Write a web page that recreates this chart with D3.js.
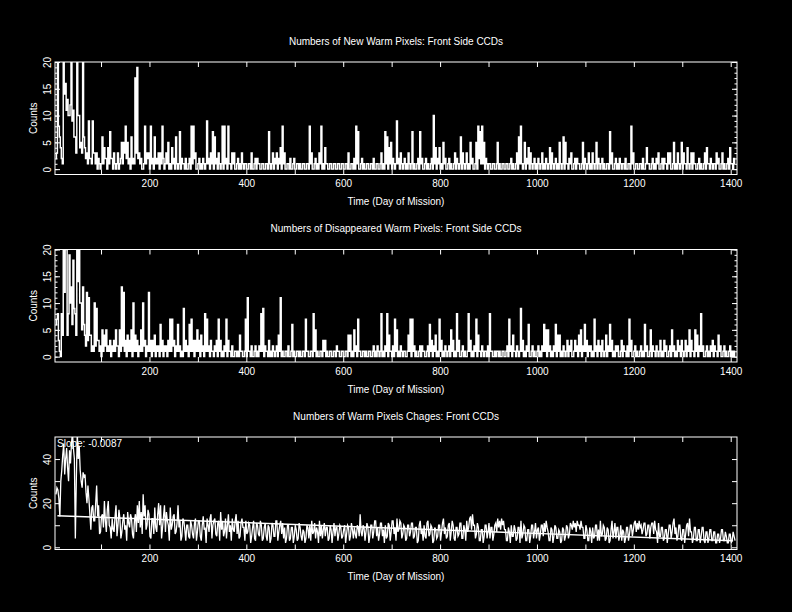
<!DOCTYPE html>
<html><head><meta charset="utf-8">
<script src="https://cdn.jsdelivr.net/npm/d3@7"></script>
<style>
html,body{margin:0;padding:0;background:#000;}
svg{display:block;font-family:"Liberation Sans",Arial,sans-serif;}
</style></head><body>
<svg id="c" width="792" height="612"></svg>
<script>
// ---------------- data ----------------
const firstDay = 7, dayStep = 2;           // sample i is at day firstDay + dayStep*i
const xTickValues = [100,200,300,400,500,600,700,800,900,1000,1100,1200,1300,1400];
const xLabelValues = [200,400,600,800,1000,1200,1400];
const titles = [
  "Numbers of New Warm Pixels: Front Side CCDs",
  "Numbers of Disappeared Warm Pixels: Front Side CCDs",
  "Numbers of Warm Pixels Chages: Front CCDs"
];
const xTitle = "Time (Day of Mission)";
const yTitle = "Counts";
const slopeText = "Slope: -0.0087";
const yLabels12 = [0,5,10,15,20];
const yLabels3 = [0,20,40];

const newWarm = [
2,3,25,8,6,4,2,1,25,14,16,11,13,10,10,12,25,9,11,6,
6,3,25,10,10,4,5,3,25,6,4,2,3,1,9,2,2,1,9,3,
3,1,3,0,2,1,0,1,6,1,4,2,2,0,4,1,7,2,2,0,
3,1,0,1,3,0,1,2,5,1,5,3,8,2,5,1,2,0,6,1,
2,1,17,3,19,2,3,1,2,0,0,1,8,1,3,2,3,0,8,1,
2,0,6,1,2,1,3,0,3,1,8,2,0,1,3,1,5,0,1,0,
4,1,2,0,6,1,0,1,7,0,2,1,1,0,2,0,0,1,2,0,
8,1,8,2,3,0,0,1,2,0,1,0,2,1,0,1,9,1,2,0,
3,1,7,0,6,1,2,0,3,1,0,1,8,0,8,1,2,0,8,1,
1,0,3,1,3,0,0,1,2,0,1,0,3,1,0,1,1,0,0,1,
1,0,3,0,0,1,2,0,2,1,1,0,0,1,1,0,0,1,1,0,
7,1,0,1,3,0,2,1,3,0,2,1,4,0,8,1,3,0,0,1,
1,0,2,0,0,1,2,0,0,1,1,0,1,0,0,1,1,0,0,1,
1,0,8,1,3,0,0,1,2,0,1,0,3,1,8,0,1,0,4,1,
1,0,0,1,1,0,0,1,1,0,0,1,1,0,0,1,1,0,0,1,
1,0,3,0,0,1,1,0,2,0,8,1,7,0,0,1,2,0,1,0,
0,1,1,0,0,1,1,0,2,0,0,1,1,0,0,1,3,0,1,0,
7,1,6,0,4,1,5,0,2,1,0,1,9,1,2,0,3,1,0,1,
2,0,1,0,3,1,0,1,7,0,1,0,0,1,2,0,7,1,2,0,
0,1,2,0,1,0,0,1,2,0,10,1,4,0,2,1,4,0,1,0,
5,1,2,0,0,1,2,0,1,0,0,1,3,0,2,1,0,1,6,0,
3,1,0,1,3,0,1,0,5,1,2,0,0,1,5,0,8,2,7,1,
8,1,5,0,2,1,0,1,1,0,0,1,1,0,0,1,5,0,1,0,
0,1,1,0,0,1,1,0,0,1,2,0,1,0,0,1,3,0,6,1,
8,1,0,1,5,0,2,1,4,0,3,1,0,1,2,0,1,0,2,1,
0,1,3,0,1,0,2,1,0,1,4,0,3,1,0,1,2,0,1,0,
5,1,0,1,6,0,5,1,1,0,2,1,3,0,0,1,2,0,2,1,
1,0,0,1,5,0,2,1,0,1,3,0,1,0,3,1,0,1,5,0,
2,1,0,1,2,0,1,0,0,1,1,0,7,1,3,0,0,1,2,0,
1,0,2,1,0,1,1,0,2,0,0,1,1,0,8,1,3,0,0,1,
1,0,0,1,1,0,2,0,0,1,4,1,1,0,0,1,2,0,1,0,
2,1,3,0,0,1,2,0,2,1,1,0,3,1,3,0,0,1,5,0,
1,0,3,1,0,1,5,0,3,1,1,0,4,1,0,1,3,0,3,1,
1,0,0,1,2,0,1,0,0,1,3,0,4,1,1,0,2,1,0,1,
1,0,3,1,2,0,0,1,3,0,1,0,0,1,2,0,4,1,1,0,
2,1
];

const goneWarm = [
6,7,8,3,1,0,8,4,25,12,25,20,4,8,19,10,13,6,18,9,
8,4,25,14,25,10,10,5,13,6,4,2,12,3,11,4,4,1,2,1,
10,2,9,3,3,1,2,0,5,1,4,2,5,1,2,1,3,0,2,1,
3,1,5,2,2,0,5,1,13,2,12,1,3,0,4,1,3,1,5,0,
10,1,4,1,3,0,2,1,5,1,10,2,3,0,2,1,12,1,3,0,
3,1,4,0,2,1,2,0,6,1,3,0,2,1,2,0,3,1,7,1,
7,2,3,0,2,1,6,1,2,0,1,0,9,1,3,1,2,0,6,1,
7,1,3,0,3,1,5,1,3,0,4,1,2,0,8,1,7,1,2,0,
3,1,1,0,2,1,3,0,7,1,3,0,1,0,2,1,7,0,3,1,
1,0,2,0,0,1,1,0,1,0,4,1,1,0,0,1,7,0,11,1,
1,0,2,0,0,1,2,0,1,0,2,1,8,1,9,0,2,1,1,0,
3,0,1,0,2,1,0,1,2,0,4,1,11,0,1,0,0,1,1,0,
2,0,0,1,6,0,1,0,0,1,1,0,1,0,0,1,1,0,7,1,
1,0,0,1,1,0,8,1,5,0,1,0,0,1,1,0,3,1,3,0,
1,0,0,1,1,0,0,1,1,0,2,1,1,0,0,1,1,0,0,1,
1,0,4,1,4,0,1,0,5,1,2,0,7,1,1,0,0,1,1,0,
1,0,0,1,1,0,0,1,2,0,1,0,2,1,0,1,8,0,1,0,
2,1,8,0,4,1,1,0,2,0,7,1,5,0,1,0,2,1,0,1,
1,0,0,1,4,1,7,0,7,1,2,0,1,0,0,1,2,0,2,1,
1,0,0,1,2,0,6,1,3,0,2,1,4,0,1,0,7,1,3,0,
1,0,2,1,0,1,2,0,5,1,3,0,1,0,8,1,3,0,0,1,
2,0,1,0,0,1,8,1,3,0,1,0,2,1,7,0,4,1,1,0,
2,1,0,1,1,0,2,0,8,1,1,0,0,1,0,1,1,0,1,0,
0,1,1,0,0,1,2,0,7,1,2,0,4,1,1,0,2,1,0,1,
9,1,3,0,1,0,2,1,6,0,0,1,2,0,1,0,0,1,2,0,
1,0,2,1,6,1,5,0,5,1,2,0,1,0,2,1,6,0,4,1,
4,0,1,0,2,1,0,1,3,0,2,1,3,0,0,1,3,1,2,0,
4,1,5,0,2,1,6,1,3,0,2,1,2,0,1,0,7,1,2,0,
3,1,2,0,3,1,0,1,4,0,2,1,6,1,3,0,1,0,2,1,
2,0,0,1,3,0,2,1,1,0,2,0,7,1,3,0,0,1,2,0,
1,0,0,1,2,0,1,0,6,1,2,0,0,1,5,0,2,1,1,0,
2,1,0,1,3,0,1,0,3,1,2,0,0,1,2,0,5,1,2,0,
1,0,3,1,2,0,3,1,0,1,3,0,2,1,5,0,3,1,1,0,
5,1,4,0,2,1,8,1,2,0,0,1,2,0,1,0,2,1,3,0,
2,1,1,0,4,1,2,0,0,1,2,0,1,0,0,1,2,0,1,0,
1,0
];

const warmChange = [
24,27,26,22,14,30,35,42,47,33,40,45,36,30,44,38,47,52,45,40,
4,30,52,40,46,35,30,27,34,32,33,25,20,28,22,15,8,18,19,12,
12,20,28,14,19,6,7,14,15,9,21,12,7,17,21,10,9,4,13,8,
7,14,19,5,10,17,13,4,7,12,15,8,10,3,16,11,9,15,13,6,
4,12,15,7,19,11,21,9,16,6,24,14,19,8,10,17,15,5,4,13,
13,6,18,9,7,15,20,10,19,4,9,14,19,7,16,12,10,3,18,8,
10,14,15,6,7,11,19,9,12,3,5,13,12,8,3,10,10,5,4,12,
10,6,4,11,13,3,7,12,12,5,3,10,14,8,9,2,13,10,7,13,
15,4,10,12,13,6,5,11,12,3,16,8,12,5,7,13,4,10,15,7,
10,3,13,8,7,12,15,6,12,4,5,11,13,9,9,3,12,6,7,11,
10,2,5,9,12,4,3,11,10,6,5,12,10,3,4,9,11,5,3,10,
9,2,4,11,10,5,5,12,12,3,7,10,12,6,11,4,9,2,4,10,
10,3,4,9,9,2,5,10,8,3,4,11,9,5,3,8,7,2,4,10,
9,4,10,3,12,6,7,11,4,9,7,2,12,5,10,4,8,11,5,9,
9,3,4,10,8,2,7,11,5,9,9,3,6,10,9,4,5,8,10,2,
6,10,9,3,5,11,8,4,9,6,4,10,9,5,15,7,5,10,9,3,
7,11,9,2,5,10,10,4,7,12,12,5,9,3,6,11,11,5,8,2,
10,4,5,11,10,3,7,12,12,6,9,3,13,7,8,12,11,4,6,10,
9,3,4,10,10,5,7,11,11,4,5,9,9,2,3,10,12,6,8,3,
10,5,4,11,12,5,6,10,9,2,3,9,8,4,5,10,10,3,7,11,
13,6,9,4,5,10,11,3,7,12,10,4,3,9,9,5,6,11,11,4,
4,10,8,3,12,7,9,13,14,8,15,10,10,4,6,11,9,3,3,8,
8,2,5,10,10,4,7,11,4,9,9,3,6,10,11,7,13,9,12,8,
13,10,12,8,8,3,3,9,7,2,10,5,5,10,8,3,4,9,9,2,
12,4,6,10,9,3,3,8,8,2,5,10,10,4,7,11,4,8,9,3,
6,10,10,5,11,7,12,9,7,3,3,9,8,2,5,10,9,4,4,8,
7,2,3,9,8,3,5,10,9,4,6,11,10,8,12,9,11,7,12,10,
10,8,12,9,9,4,4,10,8,3,3,9,7,2,9,4,5,10,10,3,
8,3,12,5,6,10,9,3,4,9,8,2,3,8,12,4,7,11,4,9,
9,3,5,10,3,8,7,2,4,9,9,3,6,10,10,5,8,11,12,7,
11,8,12,9,10,6,8,11,11,5,6,10,10,4,9,11,11,6,12,8,
7,2,11,5,5,9,9,3,4,8,8,2,6,10,10,4,7,11,13,6,
9,3,5,10,10,4,3,8,8,2,6,10,11,5,13,7,7,2,4,9,
9,3,3,8,8,2,5,9,9,3,2,7,7,2,4,8,8,3,3,7,
7,2,2,6,6,2,4,8,8,3,3,7,5,2,2,6,6,2,3,7,
5,3
];
const fitLine = [[10,14.3],[1405,3.0]];

// ---------------- drawing ----------------
const svg = d3.select("#c");
svg.append("rect").attr("width",792).attr("height",612).attr("fill","#000");

const L = 55, R = 737, H = 112.5;
const x = d3.scaleLinear().domain([5,1413]).range([L,R]);

const panels = [
  {top:62,   data:newWarm,  dom:[-1,20], curve:d3.curveStep,   sw:1.45, major:yLabels12, minor:d3.range(0,21), labels:yLabels12},
  {top:249.5,data:goneWarm, dom:[-1,20], curve:d3.curveStep,   sw:1.45, major:yLabels12, minor:d3.range(0,21), labels:yLabels12},
  {top:437,  data:warmChange,dom:[-1,50],curve:d3.curveLinear, sw:1.3,  major:[0,10,20,30,40], minor:[], labels:yLabels3}
];

panels.forEach((p,pi)=>{
  const bottom = p.top + H;
  const y = d3.scaleLinear().domain(p.dom).range([bottom,p.top]);
  const g = svg.append("g");
  const clipId = "clip"+pi;
  svg.append("defs").append("clipPath").attr("id",clipId)
    .append("rect").attr("x",L).attr("y",p.top).attr("width",R-L).attr("height",H);

  const line = d3.line()
    .x((d,i)=>x(firstDay+dayStep*i))
    .y(d=>y(d))
    .curve(p.curve);
  g.append("path").datum(p.data).attr("clip-path",`url(#${clipId})`)
    .attr("d",line).attr("fill","none").attr("stroke","#fff").attr("stroke-width",p.sw);

  if(pi===2){
    g.append("path").datum(fitLine).attr("clip-path",`url(#${clipId})`)
      .attr("d",d3.line().x(d=>x(d[0])).y(d=>y(d[1])))
      .attr("fill","none").attr("stroke","#fff").attr("stroke-width",1.4);
    g.append("text").attr("x",57).attr("y",p.top+9.5).attr("fill","#fff")
      .attr("font-size",10).text(slopeText);
  }

  g.append("rect").attr("x",L).attr("y",p.top).attr("width",R-L).attr("height",H)
    .attr("fill","none").attr("stroke","#fff").attr("stroke-width",1);

  const style = sel=>{sel.select(".domain").remove();
    sel.selectAll("line").attr("stroke","#fff").attr("stroke-width",1);};

  const xb = g.append("g").attr("transform",`translate(0,${bottom})`)
    .call(d3.axisBottom(x).tickValues(xTickValues).tickSizeInner(-5).tickSizeOuter(0)
      .tickPadding(7).tickFormat(d=>xLabelValues.includes(d)?d:""));
  style(xb);
  xb.selectAll("text").attr("fill","#fff").attr("font-size",10)
    .attr("dy",null).attr("y",12.5);
  const xt = g.append("g").attr("transform",`translate(0,${p.top})`)
    .call(d3.axisTop(x).tickValues(xTickValues).tickSizeInner(-5).tickSizeOuter(0).tickFormat(""));
  style(xt);

  const yl = g.append("g").attr("transform",`translate(${L},0)`)
    .call(d3.axisLeft(y).tickValues(p.major).tickSizeInner(-5).tickSizeOuter(0)
      .tickFormat(d=>p.labels.includes(d)?d:""));
  style(yl);
  yl.selectAll("text").attr("fill","#fff").attr("font-size",10)
    .attr("x",0).attr("dy",null).attr("text-anchor","middle")
    .attr("transform","translate(-4,0) rotate(-90)");
  const yr = g.append("g").attr("transform",`translate(${R},0)`)
    .call(d3.axisRight(y).tickValues(p.major).tickSizeInner(-5).tickSizeOuter(0).tickFormat(""));
  style(yr);
  if(p.minor.length){
    const ml = g.append("g").attr("transform",`translate(${L},0)`)
      .call(d3.axisLeft(y).tickValues(p.minor).tickSizeInner(-2.5).tickSizeOuter(0).tickFormat(""));
    style(ml);
    const mr = g.append("g").attr("transform",`translate(${R},0)`)
      .call(d3.axisRight(y).tickValues(p.minor).tickSizeInner(-2.5).tickSizeOuter(0).tickFormat(""));
    style(mr);
  }

  const cx = (L+R)/2;
  g.append("text").attr("x",cx).attr("y",p.top-17.5).attr("text-anchor","middle")
    .attr("fill","#fff").attr("font-size",10).text(titles[pi]);
  g.append("text").attr("x",cx).attr("y",bottom+30.5).attr("text-anchor","middle")
    .attr("fill","#fff").attr("font-size",10).text(xTitle);
  g.append("text").attr("transform",`translate(36.5,${p.top+H/2}) rotate(-90)`)
    .attr("text-anchor","middle").attr("fill","#fff").attr("font-size",10).text(yTitle);
});
</script>
</body></html>
